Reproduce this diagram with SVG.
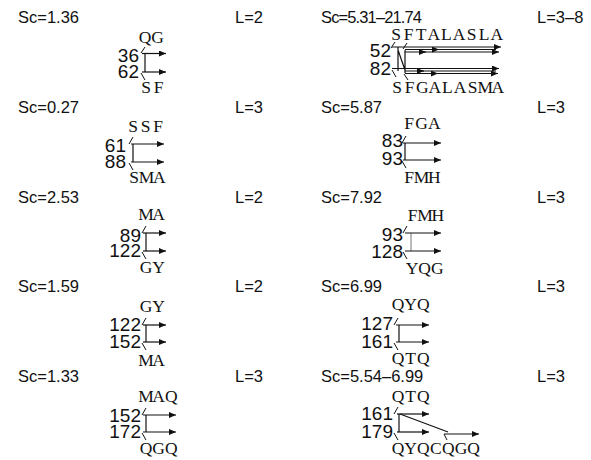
<svg xmlns="http://www.w3.org/2000/svg" width="591" height="460" viewBox="0 0 591 460">
<style>
.h{font-family:"Liberation Sans",Arial,sans-serif;font-size:16.5px;fill:#111}
.n{font-family:"Liberation Sans",Arial,sans-serif;font-size:19px;text-anchor:end;fill:#111}
.s{font-family:"Liberation Serif","Times New Roman",serif;font-size:17.5px;text-anchor:middle;fill:#111}
.l{stroke:#111;stroke-width:1.2;fill:none}
.ar{stroke:#111;stroke-width:1.2;fill:none;marker-end:url(#ah)}
.t{stroke:#111;stroke-width:1;fill:none}
.b{stroke:#111;stroke-width:1;fill:none;marker-end:url(#ah)}
</style>
<defs>
<marker id="ah" markerUnits="userSpaceOnUse" markerWidth="7" markerHeight="6" refX="7" refY="3" orient="auto">
<path d="M0,0 L7,3 L0,6 z" fill="#111"/>
</marker>
</defs>
<rect width="591" height="460" fill="#fff"/>

<g id="p1">
<text class="h" x="18" y="23">Sc=1.36</text><text class="h" x="235" y="23">L=2</text>
<text class="s" x="145 157.6" y="43">QG</text>
<text class="n" x="139" y="62">36</text><text class="n" x="139" y="78">62</text>
<text class="s" x="146 158.6" y="93">SF</text>
</g>
<g id="p2">
<text class="h" x="321" y="23" textLength="101">Sc=5.31–21.74</text><text class="h" x="537" y="23">L=3–8</text>
<text class="s" x="396 408.6 421.2 433.8 446.4 459 471.6 484.2 496.8" y="40">SFTALASLA</text>
<text class="n" x="391" y="57">52</text><text class="n" x="391" y="75">82</text>
<text class="s" x="397 409.6 422.2 434.8 447.4 460 472.6 485.2 497.8" y="93">SFGALASMA</text>
</g>
<g id="p3">
<text class="h" x="18" y="113">Sc=0.27</text><text class="h" x="235" y="113">L=3</text>
<text class="s" x="133 145.6 158.2" y="132">SSF</text>
<text class="n" x="126" y="152">61</text><text class="n" x="126" y="168">88</text>
<text class="s" x="134 146.6 159.2" y="183">SMA</text>
</g>
<g id="p4">
<text class="h" x="321" y="113">Sc=5.87</text><text class="h" x="537" y="113">L=3</text>
<text class="s" x="409 421.6 434.2" y="129">FGA</text>
<text class="n" x="403" y="147">83</text><text class="n" x="403" y="165">93</text>
<text class="s" x="409 421.6 434.2" y="183">FMH</text>
</g>
<g id="p5">
<text class="h" x="18" y="203">Sc=2.53</text><text class="h" x="235" y="203">L=2</text>
<text class="s" x="146 158.6" y="220">MA</text>
<text class="n" x="141" y="242">89</text><text class="n" x="141" y="257">122</text>
<text class="s" x="146 158.6" y="273">GY</text>
</g>
<g id="p6">
<text class="h" x="321" y="203">Sc=7.92</text><text class="h" x="537" y="203">L=3</text>
<text class="s" x="412.5 425.1 437.7" y="221">FMH</text>
<text class="n" x="403" y="241">93</text><text class="n" x="403" y="258">128</text>
<text class="s" x="412 424.6 437.2" y="274">YQG</text>
</g>
<g id="p7">
<text class="h" x="18" y="292">Sc=1.59</text><text class="h" x="235" y="292">L=2</text>
<text class="s" x="146 158.6" y="312">GY</text>
<text class="n" x="141" y="331">122</text><text class="n" x="141" y="348">152</text>
<text class="s" x="146 158.6" y="366">MA</text>
</g>
<g id="p8">
<text class="h" x="321" y="292">Sc=6.99</text><text class="h" x="537" y="292">L=3</text>
<text class="s" x="398 410.6 423.2" y="310">QYQ</text>
<text class="n" x="393" y="330">127</text><text class="n" x="393" y="348">161</text>
<text class="s" x="398 410.6 423.2" y="364">QTQ</text>
</g>
<g id="p9">
<text class="h" x="18" y="382">Sc=1.33</text><text class="h" x="235" y="382">L=3</text>
<text class="s" x="146 158.6 171.2" y="402">MAQ</text>
<text class="n" x="141" y="422">152</text><text class="n" x="141" y="438">172</text>
<text class="s" x="146 158.6 171.2" y="454">QGQ</text>
</g>
<g id="p10">
<text class="h" x="321" y="382">Sc=5.54–6.99</text><text class="h" x="537" y="382">L=3</text>
<text class="s" x="398 410.6 423.2" y="402">QTQ</text>
<text class="n" x="393" y="420">161</text><text class="n" x="393" y="438">179</text>
<text class="s" x="398 410.6 423.2 435.8 448.4 461 473.6" y="454">QYQCQGQ</text>
</g>

<g id="connectors">
<!-- p1 -->
<path class="t" d="M141,53 L145,47 M141,73 L145,80"/>
<path class="l" d="M145,53.5 V72"/>
<path class="ar" d="M142,53.5 H166"/><path class="ar" d="M142,72 H166"/>
<!-- p3 -->
<path class="t" d="M129,144 L133,137 M129,163 L133,170"/>
<path class="l" d="M133,144 V162"/>
<path class="ar" d="M131,144 H164"/><path class="ar" d="M131,162 H164"/>
<!-- p5 -->
<path class="t" d="M142,233 L146,226 M142,252 L146,259"/>
<path class="l" d="M146,233 V251"/>
<path class="ar" d="M143,233 H166"/><path class="ar" d="M143,251 H166"/>
<!-- p7 -->
<path class="t" d="M142,325 L146,318 M142,343 L146,350"/>
<path class="l" d="M146,325 V342"/>
<path class="ar" d="M143,325 H166"/><path class="ar" d="M143,342 H166"/>
<!-- p9 -->
<path class="t" d="M142,415 L146,408 M142,433 L146,440"/>
<path class="l" d="M146,415 V432"/>
<path class="ar" d="M143,415 H176"/><path class="ar" d="M143,432 H176"/>
<!-- p4 -->
<path class="t" d="M402,143 L406,136 M402,161 L406,168"/>
<path class="l" d="M405,143 V160"/>
<path class="ar" d="M403,143 H441"/><path class="ar" d="M403,160 H441"/>
<!-- p6 -->
<path class="t" d="M403,233 L407,226 M403,252 L407,259"/>
<path d="M411,233 V251" stroke="#777" stroke-width="1" fill="none"/>
<path class="ar" d="M405,233 H441"/><path class="ar" d="M405,251 H441"/>
<!-- p8 -->
<path class="t" d="M394,325 L398,318 M394,343 L398,350"/>
<path class="l" d="M399,325 V342"/>
<path class="ar" d="M396,325 H429"/><path class="ar" d="M396,342 H429"/>
<!-- p10 -->
<path class="t" d="M394,414 L398,407 M394,433 L398,440 M444,434 L447,440"/>
<path class="l" d="M399,414 V432"/>
<path class="ar" d="M397,414 H429"/><path class="ar" d="M397,432 H429"/>
<path class="l" d="M400,414 L448,432"/>
<path class="ar" d="M444,434 H479"/>
<!-- p2 -->
<path class="t" d="M391,48 L395,42 M403,49 L407,43 M392,70 L396,77 M404,74 L408,80"/>
<path class="l" d="M398,47 V71 M405,50 V73 M398,50 L405,70"/>
<path class="b" d="M392,47 H501"/>
<path class="b" d="M405,49.5 H439"/>
<path class="l" d="M437,49.5 H496"/>
<path class="b" d="M405,52 H426"/>
<path class="b" d="M424,52 H499"/>
<path class="b" d="M392,68.5 H499"/>
<path class="b" d="M405,71 H424"/>
<path class="l" d="M422,71 H496"/>
<path class="b" d="M405,73.5 H438"/>
<path class="b" d="M436,73.5 H498"/>
</g>
</svg>
